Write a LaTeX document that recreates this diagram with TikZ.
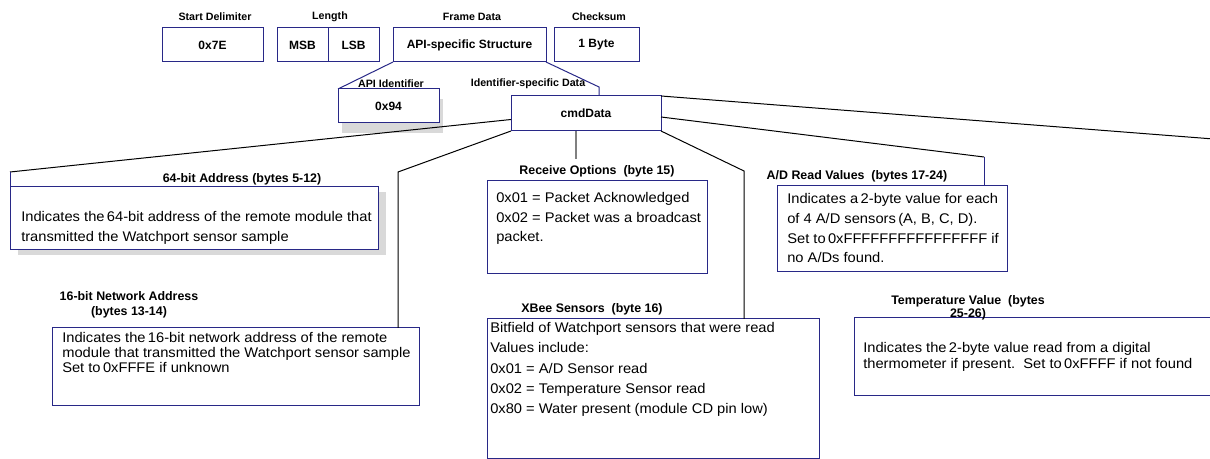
\documentclass[tikz,border=0pt]{standalone}
\usepackage{fontspec}
\setmainfont{Liberation Sans}
\newfontfamily\bodyfont[FakeStretch=1.05]{Liberation Sans}
\usepackage{xcolor}

\definecolor{boxblue}{RGB}{40,40,135}
\definecolor{shadegray}{RGB}{217,217,217}

\tikzset{
  fieldbox/.style={draw=boxblue, line width=0.75pt, fill=white, inner sep=0pt, outer sep=0pt,
    anchor=north west, font=\bfseries\fontsize{9}{10}\selectfont},
  boxsize/.style 2 args={minimum width=#1*0.75pt, minimum height=#2*0.75pt},
  fieldlabel/.style={inner sep=0pt, font=\bfseries\fontsize{8}{9}\selectfont},
  partlabel/.style={inner sep=0pt, align=center, font=\bfseries\fontsize{9.3}{11.2}\selectfont},
  bodytext/.style={inner sep=0pt, anchor=base west, align=left, font=\bodyfont\fontsize{10.5}{14.8}\selectfont},
  link/.style={draw=black, line width=0.75pt},
}

\begin{document}
\begin{tikzpicture}[x=0.75pt,y=0.75pt,yscale=-1]
\useasboundingbox (0,0) rectangle (1210,459);
\clip (0,0) rectangle (1210,459);

%Frame: top row of fields
\node[fieldbox, boxsize={101}{34}] (startdel) at (162,28) {0x7E};
\node[fieldbox, boxsize={51}{34}] (lenmsb) at (277,28) {MSB};
\node[fieldbox, boxsize={51}{34}] (lenlsb) at (328,28) {LSB};
\node[fieldbox, boxsize={153}{34}] (framedata) at (393,28) {API-specific Structure};
\node[fieldbox, boxsize={85}{34}] (checksum) at (554,28) {1 Byte};

%Shadow + box: API identifier
\fill[shadegray] (342,99) rectangle (443,133);
\node[fieldbox, boxsize={101}{34}] (apiid) at (338,89) {0x94};

%Box: identifier-specific data
\node[fieldbox, boxsize={150}{35}] (cmd) at (511,96) {cmdData};

%Shadow + box: 64-bit address
\fill[shadegray] (18,192) rectangle (386,255);
\node[fieldbox, boxsize={368}{63}] (addr64) at (10,187) {};

%Boxes: remaining fields
\node[fieldbox, boxsize={220}{93}] (rxopt) at (487,181) {};
\node[fieldbox, boxsize={230}{86}] (adread) at (777,186) {};
\node[fieldbox, boxsize={367}{78}] (net16) at (52,328) {};
\node[fieldbox, boxsize={332}{139}] (xbee) at (487,319) {};
\node[fieldbox, boxsize={420}{78}] (temp) at (854,318) {};

%Bend points
\coordinate (idsbend) at (599,87);
\coordinate (a64bend) at (10,172);
\coordinate (n16bend) at (398,172);
\coordinate (rxtick) at (576,159);
\coordinate (xbbend) at (744,171);
\coordinate (adbend) at (984,157);
\coordinate (tempend) at (1265,143);

%Lines: frame data to its parts
\draw[link, draw=boxblue] (framedata.south west) -- (apiid.north west);
\draw[link, draw=boxblue] (framedata.south east) -- (idsbend) -- (idsbend |- cmd.north);

%Lines: cmdData to its fields
\draw[link] ([shift={(0,6)}]cmd.west) -- (a64bend);
\draw[link, draw=boxblue] (a64bend) -- (addr64.north west);
\draw[link] (cmd.south west) -- (n16bend) -- (n16bend |- net16.north);
\draw[draw=gray, line width=1.1pt] (rxtick |- cmd.south) -- (rxtick);
\draw[link] (cmd.south east) -- (xbbend) -- (xbbend |- xbee.north);
\draw[link] ([shift={(0,3.5)}]cmd.east) -- (adbend);
\draw[link, draw=boxblue] (adbend) -- (adbend |- adread.north);
\draw[link] (cmd.north east) -- (tempend);

% Text Node
\node[fieldlabel] (startlbl) at (215,17) {Start Delimiter};
\node[fieldlabel] (lenlbl) at (330,17) {Length};
\node[fieldlabel] (framelbl) at (472,17) {Frame Data};
\node[fieldlabel] (sumlbl) at (599,17) {Checksum};
\node[fieldlabel] (apilbl) at (391,84) {API Identifier};
\node[fieldlabel] (idslbl) at (528,84) {Identifier-specific Data};

% Text Node
\node[partlabel] (a64lbl) at (242,179) {64-bit Address (bytes 5-12)};
\node[partlabel] (rxlbl) at (597,171) {Receive Options\ \ (byte 15)};
\node[partlabel] (adlbl) at (857,176) {A/D Read Values\ \ (bytes 17-24)};
\node[partlabel] (n16lbl) at (129,305) {16-bit Network Address\\(bytes 13-14)};
\node[partlabel] (xblbl) at (592,309) {XBee Sensors\ \ (byte 16)};
\node[partlabel, font=\bfseries\fontsize{9.3}{8.5}\selectfont] (templbl) at (968,308) {Temperature Value\ \ (bytes\\25-26)};

% Text Node (anchored at the baseline of the last line)
\node[bodytext, font=\bodyfont\fontsize{10.5}{15}\selectfont] (addr64txt) at (21,242) {Indicates the\,64-bit address of the remote module that\\transmitted the Watchport sensor sample};
\node[bodytext] (rxopttxt) at (496,242) {0x01 = Packet Acknowledged\\0x02 = Packet was a broadcast\\packet.};
\node[bodytext] (adreadtxt) at (787,263) {Indicates a\,2-byte value for each\\of 4 A/D sensors\,(A, B, C, D).\\Set to\,0xFFFFFFFFFFFFFFFF if\\no A/Ds found.};
\node[bodytext, font=\bodyfont\fontsize{10.5}{11.6}\selectfont] (net16txt) at (62,373) {Indicates the\,16-bit network address of the remote\\module that transmitted the Watchport sensor sample\\Set to\,0xFFFE if unknown};
\node[bodytext, font=\bodyfont\fontsize{10.5}{15}\selectfont] (xbeetxt) at (490,413) {Bitfield of Watchport sensors that were read\\Values include:\\0x01 = A/D Sensor read\\0x02 = Temperature Sensor read\\0x80 = Water present (module CD pin low)};
\node[bodytext, font=\bodyfont\fontsize{10.5}{12.5}\selectfont] (temptxt) at (863,369) {Indicates the\,2-byte value read from a digital\\thermometer if present.\ \ Set to\,0xFFFF if not found};

\end{tikzpicture}
\end{document}
